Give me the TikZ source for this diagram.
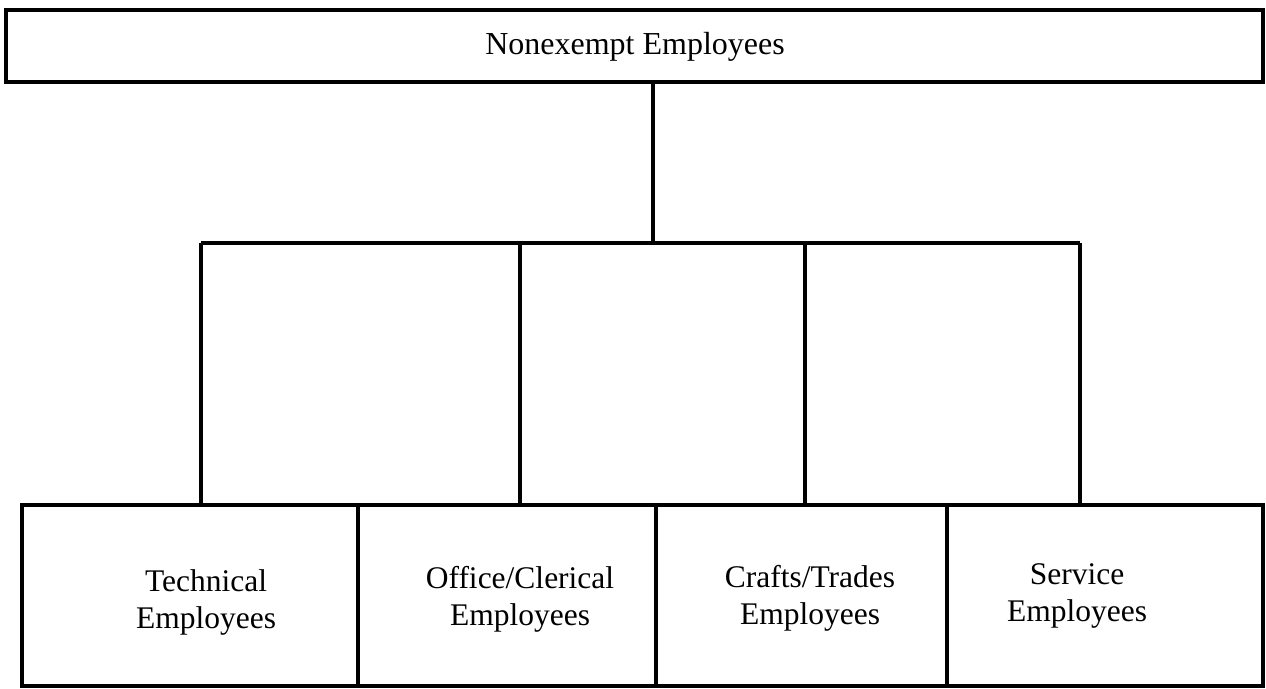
\documentclass[tikz,border=0pt]{standalone}
\usepackage{fontspec}
\setmainfont{Liberation Serif}
\begin{document}
\begin{tikzpicture}[x=1pt,y=-1pt,
  boxstyle/.style={draw, line width=3.2pt, rectangle, inner sep=0pt},
  lbl/.style={align=center, inner sep=0pt, font=\fontsize{31.5}{37}\selectfont},
  conn/.style={line width=3.2pt}]
\useasboundingbox (0,0) rectangle (1266,688);
% top box
\node[boxstyle, minimum width=1257pt, minimum height=72pt] (top) at (634.5,46) {};
\node[lbl, font=\fontsize{32}{37}\selectfont] (toplbl) at (635,47) {Nonexempt Employees};
% bottom boxes
\node[boxstyle, minimum width=336pt, minimum height=181pt] (tech) at (190,595.5) {};
\node[boxstyle, minimum width=298pt, minimum height=181pt] (office) at (507,595.5) {};
\node[boxstyle, minimum width=291pt, minimum height=181pt] (crafts) at (801.5,595.5) {};
\node[boxstyle, minimum width=316pt, minimum height=181pt] (service) at (1105,595.5) {};
\node[lbl] (techlbl) at (206,602) {Technical\\Employees};
\node[lbl] (officelbl) at (520,599) {Office/Clerical\\Employees};
\node[lbl] (craftslbl) at (810,598) {Crafts/Trades\\Employees};
\node[lbl] (servicelbl) at (1077,596) {Service\\Employees};
% connectors
\coordinate (j) at (653,243);
\coordinate (b1) at (201,243);
\coordinate (b2) at (520,243);
\coordinate (b3) at (805,243);
\coordinate (b4) at (1080,243);
\draw[conn] (top.south -| j) -- (j);
\draw[conn] (b1) -- (b4);
\draw[conn] (b1) -- (b1 |- tech.north);
\draw[conn] (b2) -- (b2 |- office.north);
\draw[conn] (b3) -- (b3 |- crafts.north);
\draw[conn] (b4) -- (b4 |- service.north);
\end{tikzpicture}
\end{document}
